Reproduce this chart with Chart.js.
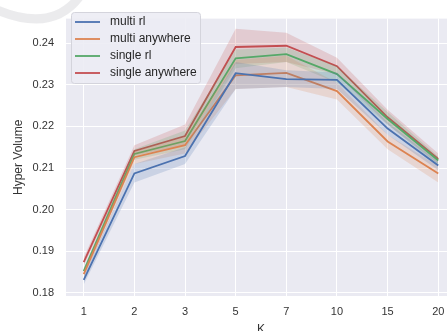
<!DOCTYPE html>
<html lang="en">
<head>
    <meta charset="UTF-8">
    <title>Hyper Volume vs K</title>
    <style>
        html, body { margin: 0; padding: 0; background: #fff; overflow: hidden; }
        .wrap { width: 460px; height: 340px; }
    </style>
    <script src="https://cdn.jsdelivr.net/npm/chart.js"></script>
</head>
<body>
    <div class="wrap"><canvas id="myChart" width="460" height="340"></canvas></div>

    <script>
        // categories on the x axis (evenly spaced)
        const kLabels = ['1', '2', '3', '5', '7', '10', '15', '20'];
        const yTicks = [0.18, 0.19, 0.20, 0.21, 0.22, 0.23, 0.24];

        // mean values
        const multiRl = [0.1831, 0.2087, 0.2129, 0.2328, 0.2314, 0.2312, 0.2195, 0.2106];
        const multiAnywhere = [0.1845, 0.2126, 0.2155, 0.2323, 0.2329, 0.2285, 0.2164, 0.2087];
        const singleRl = [0.1852, 0.2134, 0.2165, 0.2364, 0.2374, 0.2326, 0.2218, 0.2118];
        const singleAnywhere = [0.1874, 0.2141, 0.2177, 0.2391, 0.2394, 0.2345, 0.2222, 0.2122];

        // confidence band edges
        const multiRlLow = [0.1820, 0.2065, 0.2110, 0.2290, 0.2295, 0.2290, 0.2180, 0.2095];
        const multiRlHigh = [0.1840, 0.2110, 0.2150, 0.2355, 0.2335, 0.2330, 0.2210, 0.2115];
        const multiAnyLow = [0.1835, 0.2110, 0.2135, 0.2290, 0.2295, 0.2265, 0.2145, 0.2065];
        const multiAnyHigh = [0.1855, 0.2140, 0.2175, 0.2360, 0.2370, 0.2305, 0.2180, 0.2105];
        const singleRlLow = [0.1840, 0.2120, 0.2145, 0.2340, 0.2355, 0.2305, 0.2205, 0.2105];
        const singleRlHigh = [0.1860, 0.2145, 0.2190, 0.2385, 0.2390, 0.2345, 0.2235, 0.2128];
        const singleAnyLow = [0.1865, 0.2130, 0.2155, 0.2350, 0.2355, 0.2325, 0.2205, 0.2110];
        const singleAnyHigh = [0.1885, 0.2155, 0.2205, 0.2435, 0.2425, 0.2365, 0.2240, 0.2135];

        const series = [
            { name: 'multi rl', mean: multiRl, low: multiRlLow, high: multiRlHigh, color: '76,114,176' },
            { name: 'multi anywhere', mean: multiAnywhere, low: multiAnyLow, high: multiAnyHigh, color: '221,132,82' },
            { name: 'single rl', mean: singleRl, low: singleRlLow, high: singleRlHigh, color: '85,168,104' },
            { name: 'single anywhere', mean: singleAnywhere, low: singleAnyLow, high: singleAnyHigh, color: '196,78,82' }
        ];

        const toPoints = arr => arr.map((v, i) => ({ x: i, y: v }));

        const datasets = [];
        series.forEach(s => {
            datasets.push({
                data: toPoints(s.low), borderWidth: 0, pointRadius: 0, fill: false,
                borderColor: 'transparent'
            });
            datasets.push({
                data: toPoints(s.high), borderWidth: 0, pointRadius: 0, fill: '-1',
                backgroundColor: `rgba(${s.color},0.2)`, borderColor: 'transparent'
            });
            datasets.push({
                label: s.name, data: toPoints(s.mean), borderColor: `rgb(${s.color})`,
                borderWidth: 1.8, pointRadius: 0, fill: false, tension: 0
            });
        });

        // grey axes background
        const bgPlugin = {
            id: 'bg',
            beforeDraw(chart) {
                const { ctx, chartArea: a } = chart;
                ctx.save();
                ctx.fillStyle = '#EAEAF2';
                ctx.fillRect(a.left, a.top, a.right - a.left, a.bottom - a.top);
                ctx.restore();
            }
        };

        // legend drawn inside the plot, upper left (+ the faint smudge seen in the original)
        const legendPlugin = {
            id: 'innerLegend',
            afterDraw(chart) {
                const ctx = chart.ctx;
                const x0 = 71, y0 = 12, w = 129, h = 71;
                ctx.save();
                ctx.fillStyle = 'rgba(236,236,244,0.9)';
                ctx.strokeStyle = '#d4d4dc';
                ctx.lineWidth = 1;
                ctx.beginPath();
                ctx.roundRect(x0 + 0.5, y0 + 0.5, w, h, 3);
                ctx.fill();
                ctx.stroke();
                ctx.font = '12px "Liberation Sans", Arial, sans-serif';
                ctx.textBaseline = 'middle';
                series.forEach((s, i) => {
                    const y = 22 + i * 17;
                    ctx.strokeStyle = `rgb(${s.color})`;
                    ctx.lineWidth = 1.8;
                    ctx.beginPath();
                    ctx.moveTo(75, y);
                    ctx.lineTo(100, y);
                    ctx.stroke();
                    ctx.fillStyle = '#262626';
                    ctx.fillText(s.name, 110, y);
                });
                // watermark-like grey arc
                ctx.strokeStyle = 'rgba(190,190,195,0.3)';
                ctx.lineWidth = 9;
                ctx.lineCap = 'round';
                ctx.beginPath();
                ctx.moveTo(-5, 9);
                ctx.quadraticCurveTo(52, 34, 80, -4);
                ctx.stroke();
                ctx.restore();
            }
        };

        const ctx = document.getElementById('myChart').getContext('2d');
        const myChart = new Chart(ctx, {
            type: 'line',
            data: { datasets: datasets },
            plugins: [bgPlugin, legendPlugin],
            options: {
                responsive: false,
                animation: false,
                layout: { padding: { top: 7, right: 4, left: 0, bottom: 0 } },
                plugins: {
                    legend: { display: false },
                    tooltip: { enabled: false }
                },
                scales: {
                    x: {
                        type: 'linear',
                        min: -0.35,
                        max: 7.35,
                        afterFit(scale) { scale.height = 44; },
                        afterBuildTicks(scale) { scale.ticks = kLabels.map((_, i) => ({ value: i })); },
                        ticks: {
                            callback: v => kLabels[v],
                            color: '#333',
                            font: { size: 11, family: '"Liberation Sans", Arial, sans-serif' },
                            padding: 9,
                            maxRotation: 0
                        },
                        grid: { color: '#ffffff', lineWidth: 1, drawTicks: false },
                        border: { display: false },
                        title: {
                            display: true, text: 'K', color: '#333',
                            font: { size: 12, family: '"Liberation Sans", Arial, sans-serif' },
                            padding: { top: 0, bottom: 3 }
                        }
                    },
                    y: {
                        min: 0.17924,
                        max: 0.24593,
                        afterFit(scale) { scale.width = 66; },
                        afterBuildTicks(scale) { scale.ticks = yTicks.map(v => ({ value: v })); },
                        ticks: {
                            callback: v => v.toFixed(2),
                            color: '#333',
                            font: { size: 11, family: '"Liberation Sans", Arial, sans-serif' },
                            padding: 12
                        },
                        grid: { color: '#ffffff', lineWidth: 1, drawTicks: false },
                        border: { display: false },
                        title: {
                            display: true, text: 'Hyper Volume', color: '#333',
                            font: { size: 12, family: '"Liberation Sans", Arial, sans-serif' },
                            padding: { top: 11, bottom: 0 }
                        }
                    }
                }
            }
        });
    </script>
</body>
</html>
